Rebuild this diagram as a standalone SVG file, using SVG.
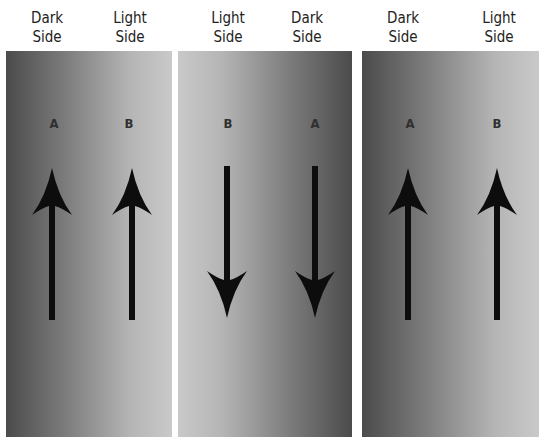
<svg xmlns="http://www.w3.org/2000/svg" xmlns:xlink="http://www.w3.org/1999/xlink" width="539" height="437" viewBox="0 0 539 437">
  <style>
    .hdr { font-family: "DejaVu Sans Condensed", "Liberation Sans", sans-serif; font-size: 15px; fill: #222; text-anchor: middle; }
    .lbl { font-family: "DejaVu Sans Condensed", "Liberation Sans", sans-serif; font-size: 13px; font-weight: bold; fill: #303030; text-anchor: middle; }
    .arrow { fill: #0d0d0d; }
  </style>
  <defs>
    <linearGradient id="darkLeft" x1="0" y1="0" x2="1" y2="0">
      <stop offset="0" stop-color="#4b4b4b"/>
      <stop offset="0.35" stop-color="#7a7b7a"/>
      <stop offset="0.75" stop-color="#b5b5b5"/>
      <stop offset="1" stop-color="#c9c9c9"/>
    </linearGradient>
    <linearGradient id="darkRight" x1="1" y1="0" x2="0" y2="0">
      <stop offset="0" stop-color="#4b4b4b"/>
      <stop offset="0.35" stop-color="#7a7b7a"/>
      <stop offset="0.75" stop-color="#b5b5b5"/>
      <stop offset="1" stop-color="#c9c9c9"/>
    </linearGradient>
    <path id="upArrow" d="M0,0 Q6,28 20,47 Q10,40 3,38 L3,152 L-3,152 L-3,38 Q-10,40 -20,47 Q-6,28 0,0 Z"/>
  </defs>
  <rect width="539" height="437" fill="#ffffff"/>

  <g id="panel1">
    <rect x="6" y="51" width="166" height="386" fill="url(#darkLeft)"/>
    <text class="hdr" x="47" y="23">Dark</text>
    <text class="hdr" x="47" y="42">Side</text>
    <text class="hdr" x="130" y="23">Light</text>
    <text class="hdr" x="130" y="42">Side</text>
    <text class="lbl" x="54" y="128">A</text>
    <text class="lbl" x="129" y="128">B</text>
  </g>

  <g id="panel2">
    <rect x="178" y="51" width="174" height="386" fill="url(#darkRight)"/>
    <text class="hdr" x="228" y="23">Light</text>
    <text class="hdr" x="228" y="42">Side</text>
    <text class="hdr" x="307" y="23">Dark</text>
    <text class="hdr" x="307" y="42">Side</text>
    <text class="lbl" x="228" y="128">B</text>
    <text class="lbl" x="315" y="128">A</text>
  </g>

  <g id="panel3">
    <rect x="362" y="51" width="177" height="386" fill="url(#darkLeft)"/>
    <text class="hdr" x="403" y="23">Dark</text>
    <text class="hdr" x="403" y="42">Side</text>
    <text class="hdr" x="499" y="23">Light</text>
    <text class="hdr" x="499" y="42">Side</text>
    <text class="lbl" x="410" y="128">A</text>
    <text class="lbl" x="497" y="128">B</text>
  </g>

  <g id="connectors" class="arrow">
    <use xlink:href="#upArrow" transform="translate(52,168)"/>
    <use xlink:href="#upArrow" transform="translate(132,168)"/>
    <use xlink:href="#upArrow" transform="translate(227,318) scale(1,-1)"/>
    <use xlink:href="#upArrow" transform="translate(315,318) scale(1,-1)"/>
    <use xlink:href="#upArrow" transform="translate(408,168)"/>
    <use xlink:href="#upArrow" transform="translate(497,168)"/>
  </g>
</svg>
